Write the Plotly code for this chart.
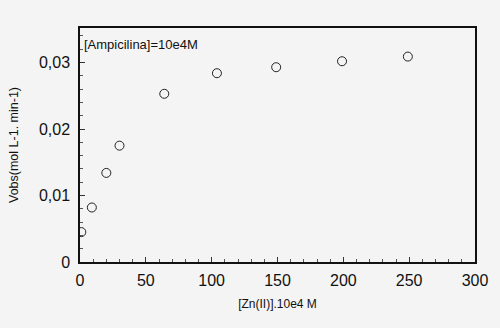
import plotly.graph_objects as go

zn = [1, 9, 20, 30, 64, 104, 149, 199, 249]
vobs = [0.0045, 0.0082, 0.0134, 0.0175, 0.0253, 0.0284, 0.0293, 0.0302, 0.0309]
xticks = [0, 50, 100, 150, 200, 250, 300]
yticks = [0, 0.01, 0.02, 0.03]
yticklabels = ["0", "0,01", "0,02", "0,03"]

bg = "#f4f4f4"
font = "Liberation Sans, Arial, sans-serif"

fig = go.Figure()
fig.add_trace(go.Scatter(
    x=zn, y=vobs, mode="markers",
    marker=dict(symbol="circle-open", size=9, color="#222", line=dict(width=1, color="#222")),
    showlegend=False,
))

fig.update_layout(
    width=500, height=328,
    margin=dict(l=78, r=25, t=28, b=66),
    paper_bgcolor=bg, plot_bgcolor=bg,
    font=dict(family=font, color="#111"),
    xaxis=dict(
        range=[0, 300], tickvals=xticks, ticks="inside", ticklen=5, tickwidth=1,
        tickcolor="#333", showgrid=False, zeroline=False,
        showline=True, linecolor="#111", linewidth=1.5, mirror=True,
        tickfont=dict(size=16), ticklabelstandoff=3,
        minor=dict(dtick=10, ticks="inside", ticklen=3, tickcolor="#555", showgrid=False),
        title=dict(text="[Zn(II)].10e4 M", font=dict(size=12), standoff=12),
    ),
    yaxis=dict(
        range=[0, 0.0352], tickvals=yticks, ticktext=yticklabels, ticks="inside",
        ticklen=5, tickwidth=1, tickcolor="#333", showgrid=False, zeroline=False,
        showline=True, linecolor="#111", linewidth=1.5, mirror=True,
        tickfont=dict(size=16), ticklabelstandoff=5,
        minor=dict(dtick=0.002, ticks="inside", ticklen=3, tickcolor="#555", showgrid=False),
        title=dict(text="Vobs(mol L-1. min-1)", font=dict(size=12.5), standoff=18),
    ),
    annotations=[dict(
        text="[Ampicilina]=10e4M", x=0.006, y=0.97, xref="paper", yref="paper",
        xanchor="left", yanchor="top", showarrow=False, font=dict(size=13),
    )],
)

fig.write_html("out.html")
